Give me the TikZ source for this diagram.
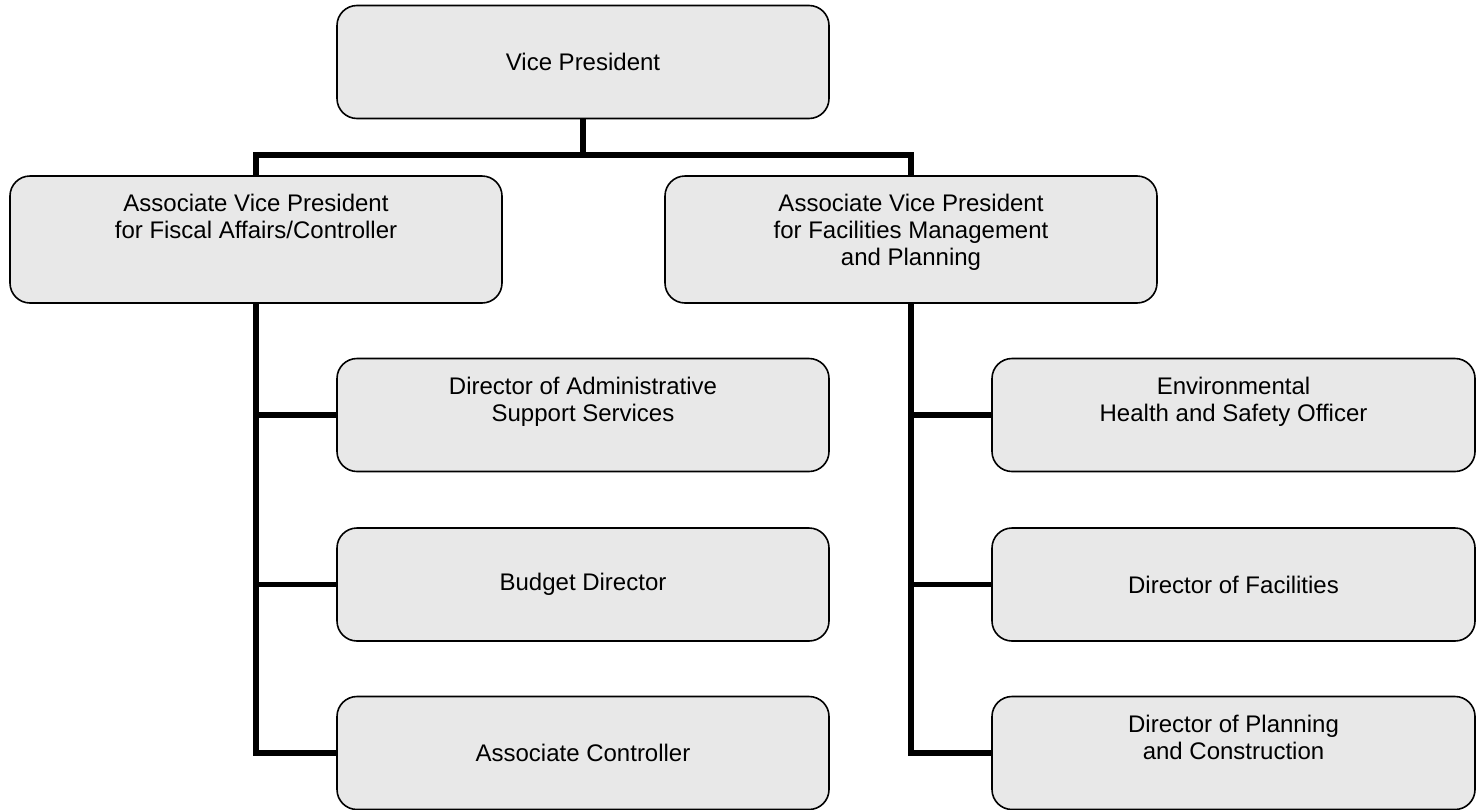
\documentclass[tikz,border=0pt]{standalone}
\usepackage{fontspec}
\setmainfont{Liberation Sans}
\usetikzlibrary{positioning}
\definecolor{boxgray}{RGB}{232,232,232}
\tikzstyle{post} = [rectangle, rounded corners=10pt, minimum width=246pt, minimum height=56.5pt, inner sep=0pt, text centered, draw=black, line width=0.8pt, fill=boxgray]
\tikzstyle{avp} = [post, minimum height=63.5pt]
\tikzstyle{narrow} = [post, minimum width=241.5pt]
\tikzstyle{toplbl} = [anchor=north, align=center, inner sep=0pt, yshift=-9.5pt]
\tikzstyle{line} = [line width=2.8pt, line join=miter]

\begin{document}
\begin{tikzpicture}[x=0.5pt, y=-0.5pt, font=\fontsize{12}{13.5}\selectfont]
	\useasboundingbox (0,0) rectangle (1476,809);
	\node (vp) [post] at (583,62) {Vice President};
	\node (avpf) [avp, label={[toplbl]north:{Associate Vice President\\for Fiscal Affairs/Controller}}] at (256,239.5) {};
	\node (avpm) [avp, label={[toplbl]north:{Associate Vice President\\for Facilities Management\\and Planning}}] at (911,239.5) {};
	% fiscal side
	\node (das) [post, label={[toplbl]north:{Director of Administrative\\Support Services}}] at (583,415) {};
	\node (bud) [post] at (583,584.5) {Budget Director};
	\node (ac) [post] at (583,753) {Associate Controller};
	% facilities side
	\node (ehs) [narrow, label={[toplbl]north:{Environmental\\Health and Safety Officer}}] at (1233.5,415) {};
	\node (dof) [narrow] at (1233.5,584.5) {Director of Facilities};
	\node (dpc) [narrow, label={[toplbl]north:{Director of Planning\\and Construction}}] at (1233.5,753) {};
	\coordinate (bus) at (583,155);
	\draw [line] (vp) -- (bus);
	\draw [line] (avpf.north) |- (bus) -| (avpm.north);
	\draw [line] (avpf.south) |- (ac.west);
	\draw [line] (avpm.south) |- (dpc.west);
	\foreach \n in {das,bud}
		\draw [line] (avpf.south |- \n.west) -- (\n.west);
	\foreach \n in {ehs,dof}
		\draw [line] (avpm.south |- \n.west) -- (\n.west);
\end{tikzpicture}
\end{document}
